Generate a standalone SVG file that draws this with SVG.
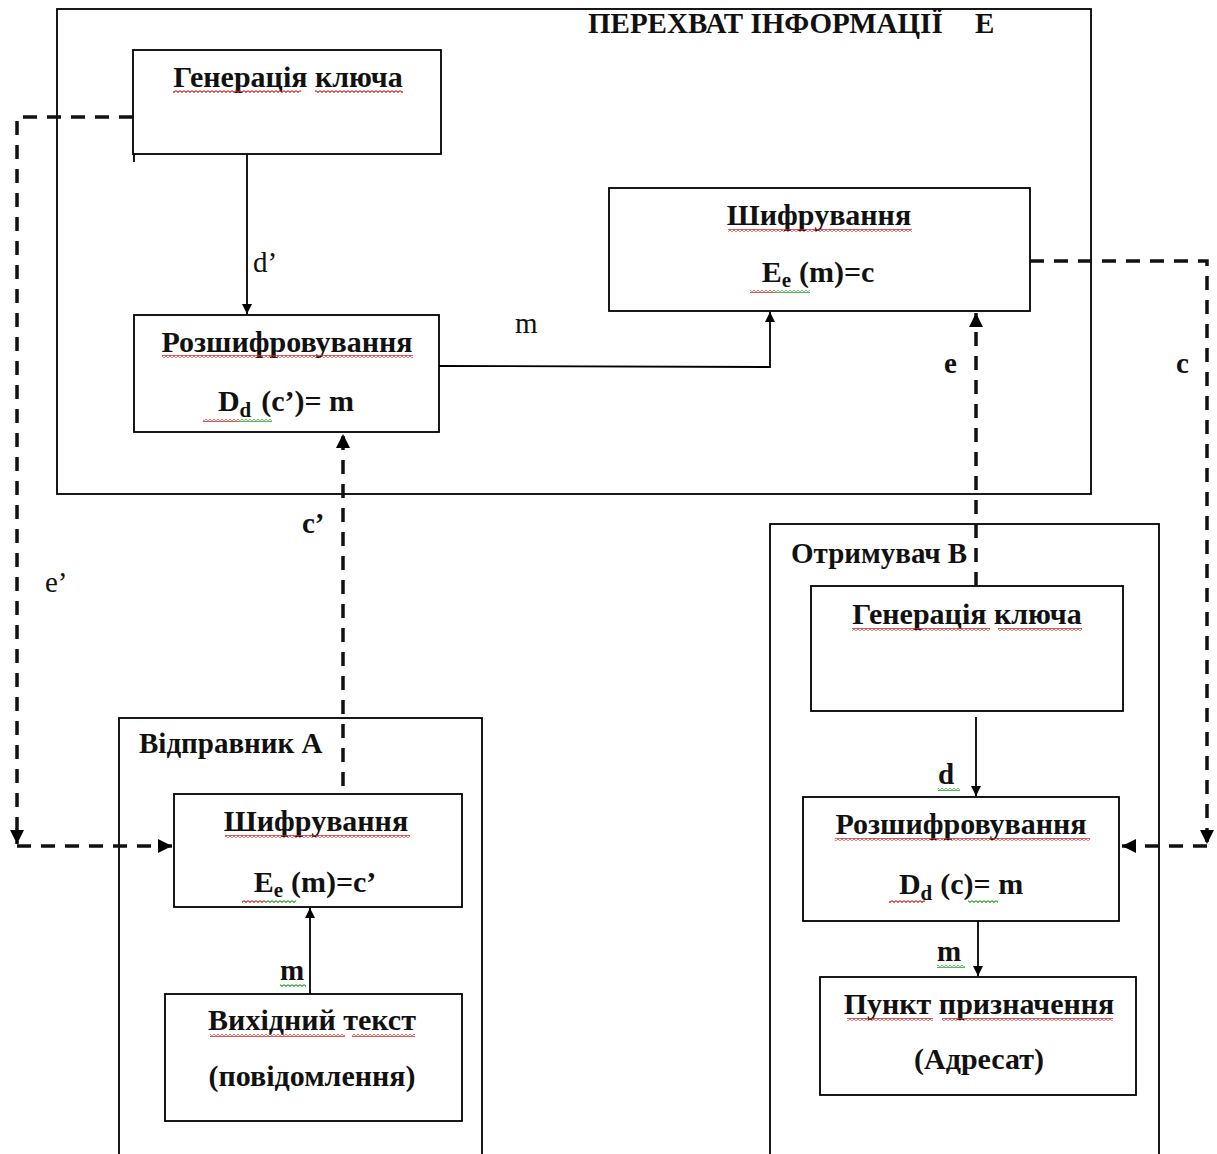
<svg xmlns="http://www.w3.org/2000/svg" width="1217" height="1154" viewBox="0 0 1217 1154">
<style>
.box{fill:none;stroke:#000;stroke-width:1.8}
.t{font-family:"Liberation Serif","Times New Roman",serif;font-weight:bold;font-size:30px;fill:#111}
.lbl{font-family:"Liberation Serif","Times New Roman",serif;font-weight:bold;font-size:29px;fill:#111}
.reg{font-family:"Liberation Serif","Times New Roman",serif;font-size:29px;fill:#111}
.sub{font-size:21px}
.solid{fill:none;stroke:#000;stroke-width:1.8}
.dash{fill:none;stroke:#111;stroke-width:3.5;stroke-dasharray:14 10}
</style>
<defs>
<marker id="ah" viewBox="0 0 10 10" refX="10" refY="5" markerWidth="10" markerHeight="10" markerUnits="userSpaceOnUse" orient="auto">
<path d="M0,0 L10,5 L0,10 Z" fill="#000"/>
</marker>
<marker id="ahd" viewBox="0 0 10 10" refX="10" refY="5" markerWidth="14" markerHeight="14" markerUnits="userSpaceOnUse" orient="auto">
<path d="M0,0 L10,5 L0,10 Z" fill="#000"/>
</marker>
<pattern id="sqr" width="4" height="3" patternUnits="userSpaceOnUse">
<path d="M0,0.6 L2,2.4 L4,0.6" fill="none" stroke="#d02020" stroke-width="1.1"/>
</pattern>
<pattern id="sqg" width="4" height="3" patternUnits="userSpaceOnUse">
<path d="M0,0.6 L2,2.4 L4,0.6" fill="none" stroke="#20a020" stroke-width="1.1"/>
</pattern>
</defs>
<rect width="1217" height="1154" fill="#fff"/>

<g id="groupE">
<rect class="box" x="57" y="9" width="1034" height="485"/>
<text class="lbl" x="588" y="33" font-size="28">ПЕРЕХВАТ ІНФОРМАЦІЇ<tspan x="975">Е</tspan></text>
</g>

<g id="groupA">
<rect class="box" x="119" y="718" width="363" height="450"/>
<text class="lbl" x="139" y="753">Відправник А</text>
</g>

<g id="groupB">
<rect class="box" x="770" y="524" width="389" height="640"/>
<text class="lbl" x="791" y="563">Отримувач В</text>
</g>

<g id="genE">
<rect class="box" x="133" y="50" width="308" height="104"/>
<line class="solid" x1="134" y1="154" x2="134" y2="162"/>
<text class="t" x="288" y="87" text-anchor="middle">Генерація ключа</text>
<rect x="173" y="90" width="128" height="3" fill="url(#sqr)"/>
<rect x="315" y="90" width="88" height="3" fill="url(#sqr)"/>
</g>

<g id="decE">
<rect class="box" x="134" y="315" width="305" height="117"/>
<text class="t" x="287" y="352" text-anchor="middle">Розшифровування</text>
<text class="t" x="286" y="411" text-anchor="middle">D<tspan class="sub" dy="6">d</tspan><tspan dy="-6" dx="10">(c’)= m</tspan></text>
<rect x="162" y="355" width="251" height="3" fill="url(#sqr)"/>
<rect x="203" y="419" width="36" height="3" fill="url(#sqr)"/>
<rect x="239" y="419" width="33" height="3" fill="url(#sqg)"/>
</g>

<g id="encE">
<rect class="box" x="609" y="188" width="421" height="123"/>
<text class="t" x="819" y="225" text-anchor="middle">Шифрування</text>
<text class="t" x="818" y="282" text-anchor="middle">E<tspan class="sub" dy="5">e</tspan><tspan dy="-5" dx="8">(m)=c</tspan></text>
<rect x="728" y="229" width="184" height="3" fill="url(#sqr)"/>
<rect x="750" y="290" width="25" height="3" fill="url(#sqr)"/>
<rect x="775" y="290" width="35" height="3" fill="url(#sqg)"/>
</g>

<g id="encA">
<rect class="box" x="174" y="794" width="288" height="113"/>
<text class="t" x="316" y="831" text-anchor="middle">Шифрування</text>
<text class="t" x="315" y="892" text-anchor="middle">E<tspan class="sub" dy="5">e</tspan><tspan dy="-5" dx="8">(m)=c’</tspan></text>
<rect x="225" y="835" width="185" height="3" fill="url(#sqr)"/>
<rect x="242" y="900" width="23" height="3" fill="url(#sqr)"/>
<rect x="265" y="900" width="31" height="3" fill="url(#sqg)"/>
</g>

<g id="srcA">
<rect class="box" x="165" y="994" width="297" height="127"/>
<text class="t" x="312" y="1030" text-anchor="middle">Вихідний текст</text>
<text class="t" x="312" y="1086" text-anchor="middle">(повідомлення)</text>
<rect x="210" y="1034" width="135" height="3" fill="url(#sqr)"/>
<rect x="352" y="1034" width="63" height="3" fill="url(#sqr)"/>
</g>

<g id="genB">
<rect class="box" x="811" y="586" width="312" height="125"/>
<text class="t" x="967" y="624" text-anchor="middle">Генерація ключа</text>
<rect x="852" y="628" width="138" height="3" fill="url(#sqr)"/>
<rect x="998" y="628" width="84" height="3" fill="url(#sqr)"/>
</g>

<g id="decB">
<rect class="box" x="803" y="797" width="316" height="124"/>
<text class="t" x="961" y="834" text-anchor="middle">Розшифровування</text>
<text class="t" x="961" y="894" text-anchor="middle">D<tspan class="sub" dy="6">d</tspan><tspan dy="-6" dx="8">(c)= m</tspan></text>
<rect x="835" y="838" width="255" height="3" fill="url(#sqr)"/>
<rect x="889" y="900" width="36" height="3" fill="url(#sqr)"/>
<rect x="968" y="900" width="30" height="3" fill="url(#sqg)"/>
</g>

<g id="destB">
<rect class="box" x="820" y="977" width="316" height="118"/>
<text class="t" x="979" y="1014" text-anchor="middle">Пункт призначення</text>
<text class="t" x="979" y="1069" text-anchor="middle">(Адресат)</text>
<rect x="847" y="1018" width="86" height="3" fill="url(#sqr)"/>
<rect x="942" y="1018" width="171" height="3" fill="url(#sqr)"/>
</g>

<g id="connectors">
<line class="solid" x1="247" y1="154" x2="247" y2="314" marker-end="url(#ah)"/>
<polyline class="solid" points="439,366 770,367 770,312" marker-end="url(#ah)"/>
<polyline class="dash" points="133,117 17,117 17,844" marker-end="url(#ahd)"/>
<line class="dash" x1="17" y1="846" x2="172" y2="846" marker-end="url(#ahd)"/>
<line class="dash" x1="343" y1="786" x2="343" y2="434" marker-end="url(#ahd)"/>
<line class="dash" x1="976" y1="586" x2="976" y2="313" marker-end="url(#ahd)"/>
<polyline class="dash" points="1030,261 1207,261 1207,844" marker-end="url(#ahd)"/>
<line class="dash" x1="1207" y1="846" x2="1122" y2="846" marker-end="url(#ahd)"/>
<line class="solid" x1="310" y1="994" x2="310" y2="908" marker-end="url(#ah)"/>
<line class="solid" x1="976" y1="717" x2="976" y2="796" marker-end="url(#ah)"/>
<line class="solid" x1="978" y1="921" x2="978" y2="976" marker-end="url(#ah)"/>
<text class="reg" x="253" y="272" font-size="26">d’</text>
<text class="reg" x="515" y="333">m</text>
<text class="reg" x="45" y="592" font-size="27">e’</text>
<text class="lbl" x="302" y="533">c’</text>
<text class="lbl" x="944" y="373">e</text>
<text class="lbl" x="1176" y="373">c</text>
<text class="lbl" x="938" y="784">d</text>
<rect x="938" y="788" width="22" height="3" fill="url(#sqg)"/>
<text class="lbl" x="280" y="980">m</text>
<rect x="280" y="984" width="26" height="3" fill="url(#sqg)"/>
<text class="lbl" x="937" y="961">m</text>
<rect x="937" y="965" width="28" height="3" fill="url(#sqg)"/>
</g>
</svg>
